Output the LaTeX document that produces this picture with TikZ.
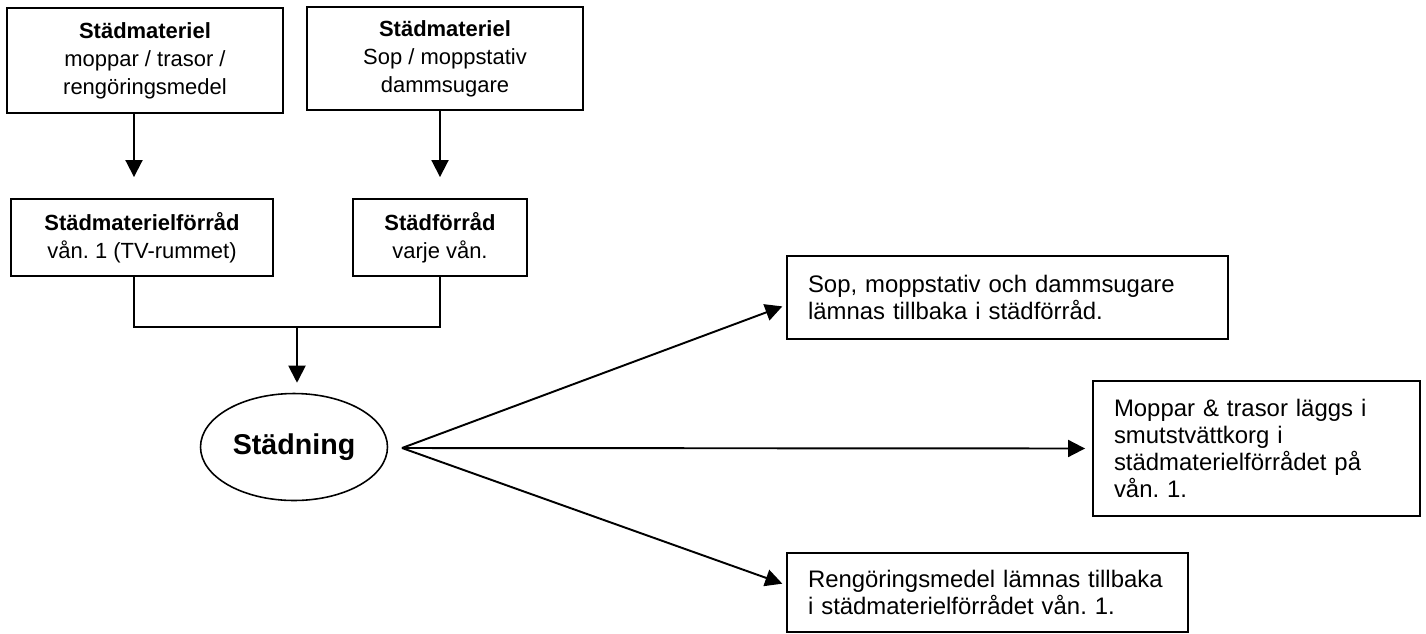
\documentclass[tikz,border=0pt]{standalone}
\usepackage{fontspec}
\setmainfont{Liberation Sans}
\usetikzlibrary{shapes.geometric,arrows.meta}
\frenchspacing

\tikzset{
	kasten/.style={draw, line width=1.1pt, inner sep=0pt, align=center, font=\fontsize{12.5}{15.9}\selectfont},
	ruta/.style={draw, line width=1.1pt, inner xsep=0.42cm, inner ysep=0pt, align=left, font=\fontsize{13.6}{15.5}\selectfont},
	linje/.style={line width=1.1pt},
}

\begin{document}
\begin{tikzpicture}[x=0.02cm, y=-0.02cm, >={Triangle[length=0.34cm, width=0.34cm]}]
		\useasboundingbox (0,0) rectangle (1426,633);
		
		\node[kasten, minimum width=5.52cm, minimum height=2.1cm] at (145,60.5) (mat1) {\textbf{Städmateriel}\\moppar / trasor /\\rengöringsmedel};
		\node[kasten, minimum width=5.52cm, minimum height=2.06cm] at (445,58.5) (mat2) {\textbf{Städmateriel}\\Sop / moppstativ\\dammsugare};
		
		\node[kasten, minimum width=5.24cm, minimum height=1.54cm] at (142,237.5) (forr1) {\textbf{Städmaterielförråd}\\vån. 1 (TV-rummet)};
		\node[kasten, minimum width=3.48cm, minimum height=1.54cm] at (440,237.5) (forr2) {\textbf{Städförråd}\\varje vån.};
		
		\node[draw, ellipse, line width=0.9pt, inner sep=0pt, minimum width=3.74cm, minimum height=2.14cm, font=\fontsize{16.3}{19}\selectfont\bfseries] at (294,447) (stad) {Städning};
		
		\node[ruta, text width=7.98cm, minimum height=1.66cm] at (1007.5,297.5) (ret1) {Sop, moppstativ och dammsugare\\lämnas tillbaka i städförråd.};
		\node[ruta, text width=5.7cm, minimum height=2.7cm] at (1256.5,448.5) (ret2) {Moppar \& trasor läggs i\\smutstvättkorg i\\städmaterielförrådet på\\vån. 1.};
		\node[ruta, text width=7.18cm, minimum height=1.58cm] at (987.5,592.5) (ret3) {Rengöringsmedel lämnas tillbaka\\i städmaterielförrådet vån. 1.};
		
		\coordinate (j1) at (134,327);
		\coordinate (j2) at (440,327);
		\coordinate (jm) at (297,327);
		\coordinate (fan) at (402,448);
		
		\draw[linje, ->, shorten >=0.42cm] (mat1.south -| j1) -- (forr1.north -| j1);
		\draw[linje, ->, shorten >=0.42cm] (mat2.south -| j2) -- (forr2.north -| j2);
		
		\draw[linje] (forr1.south -| j1) -- (j1) -- (j2) -- (forr2.south -| j2);
		\draw[linje, ->, shorten >=0.2cm] (jm) -- (stad.north -| jm);
		
		\draw[linje, ->, shorten >=0.08cm] (fan) -- ([yshift=-0.15cm]ret1.west);
		\draw[linje, ->, shorten >=0.14cm] (fan) -- (ret2.west);
		\draw[linje, ->, shorten >=0.08cm] (fan) -- ([yshift=0.15cm]ret3.west);
\end{tikzpicture}
\end{document}
